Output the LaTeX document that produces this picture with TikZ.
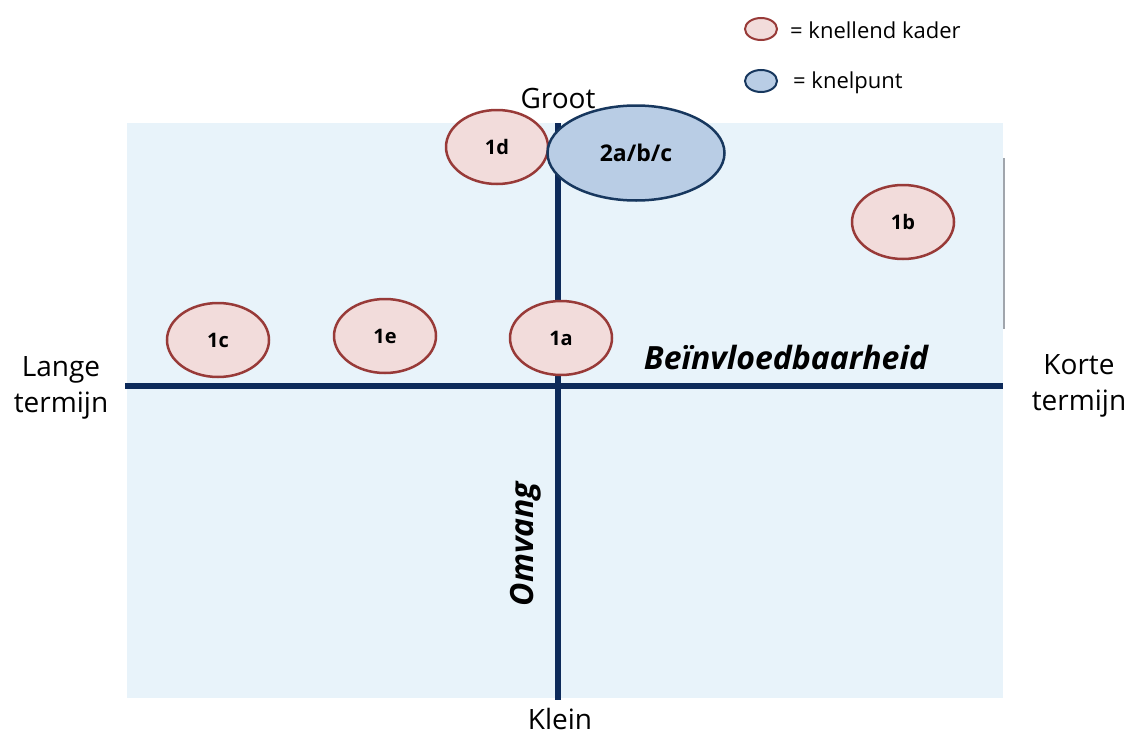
\documentclass[tikz,border=0pt]{standalone}
\usepackage{fontspec}
\setmainfont{Open Sans}
\definecolor{bgblue}{HTML}{E8F3FA}
\definecolor{axisblue}{HTML}{0D2A5A}
\definecolor{kaderfill}{HTML}{F2DCDB}
\definecolor{kaderline}{HTML}{983A38}
\definecolor{puntfill}{HTML}{B9CDE5}
\definecolor{puntline}{HTML}{17375E}
\tikzset{
  kader/.style={ellipse, draw=kaderline, fill=kaderfill, line width=2.5pt, minimum width=102pt, minimum height=74pt, inner sep=0pt, font=\fontsize{20}{22}\selectfont\bfseries},
  punt/.style={ellipse, draw=puntline, fill=puntfill, line width=2.5pt, inner sep=0pt, font=\fontsize{23}{25}\selectfont\bfseries},
  axis/.style={draw=axisblue, line width=6pt},
  pole/.style={font=\fontsize{28}{36}\selectfont, align=center, inner sep=0pt},
  axislabel/.style={font=\fontsize{32}{34}\selectfont\bfseries\itshape, inner sep=0pt},
  legend/.style={font=\fontsize{22}{24}\selectfont, anchor=west, inner sep=0pt}
}
\usetikzlibrary{shapes.geometric}
\begin{document}
\begin{tikzpicture}[x=1pt,y=-1pt]
	\useasboundingbox (0,0) rectangle (1126,736);
	% plane
	\fill[bgblue] (127,123) rectangle (1003,698);
	\draw[draw=gray!70!puntline!60, line width=2.5pt] (1004,158) -- (1004,329);
	% axes
	\coordinate (west) at (125,386);
	\coordinate (east) at (1003,386);
	\coordinate (top) at (558,123);
	\coordinate (bottom) at (558,700);
	\draw[axis] (west) -- (east);
	\draw[axis] (top) -- (bottom);
	% poles
	\node[pole] (groot) at (558,98) {Groot};
	\node[pole] (klein) at (560,719) {Klein};
	\node[pole] (lang) at (61,388) {Lange\\termijn};
	\node[pole] (kort) at (1079,386) {Korte\\termijn};
	\node[axislabel] (beinv) at (786,357) {Beïnvloedbaarheid};
	\node[axislabel, rotate=90] (omvang) at (526,544) {Omvang};
	% items
	\node[kader] (k1d) at (497,147) {1d};
	\node[punt, minimum width=177pt, minimum height=95pt] (p2) at (636,153) {2a/b/c};
	\node[kader] (k1b) at (903,222) {1b};
	\node[kader] (k1c) at (218,340) {1c};
	\node[kader] (k1e) at (385,336) {1e};
	\node[kader] (k1a) at (561,338) {1a};
	% legend
	\node[kader, minimum width=32pt, minimum height=22pt, line width=2pt] (lk) at (761,29) {};
	\node[punt, minimum width=32pt, minimum height=22pt, line width=2pt] (lp) at (761,81) {};
	\node[legend] (lktext) at (790,30) {= knellend kader};
	\node[legend] (lptext) at (793,83) {= knelpunt};
\end{tikzpicture}
\end{document}
